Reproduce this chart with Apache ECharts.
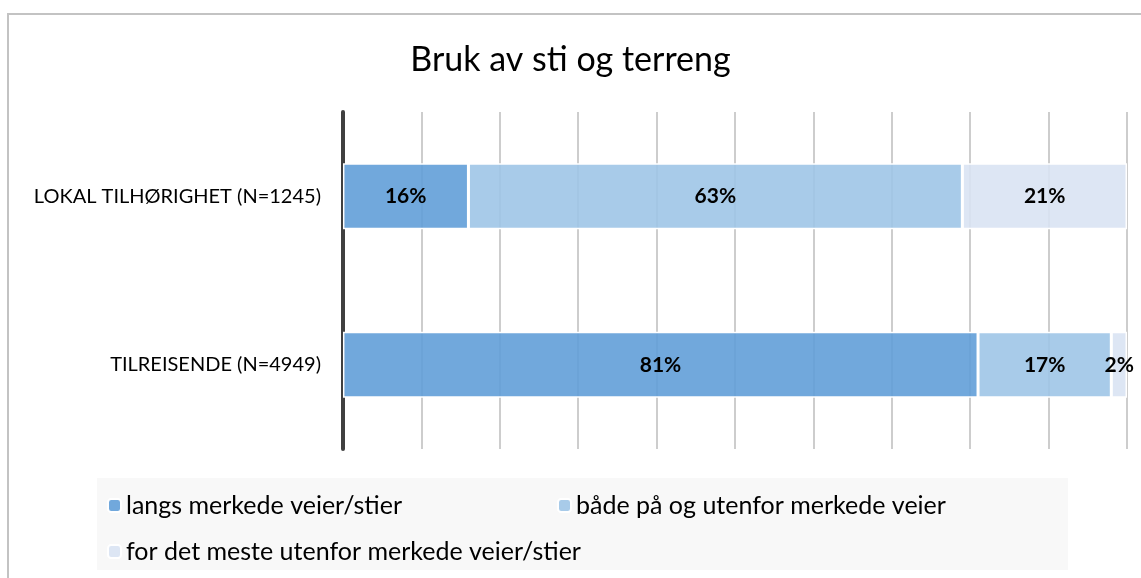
<!DOCTYPE html>
<html>
<head>
<meta charset="utf-8">
<script src="https://cdn.jsdelivr.net/npm/echarts@6/dist/echarts.min.js"></script>
<style>
html,body{margin:0;padding:0;background:#fff;}
#chart{width:1141px;height:578px;}
</style>
</head>
<body>
<div id="chart"></div>
<script>
var categories = ['LOKAL TILHØRIGHET (N=1245)', 'TILREISENDE (N=4949)'];
var seriesNames = ['langs merkede veier/stier', 'både på og utenfor merkede veier', 'for det meste utenfor merkede veier/stier'];
var langs = [16, 81];
var baade = [63, 17];
var utenfor = [21, 2];
var colors = ['rgba(98,159,216,0.9)', 'rgba(159,197,231,0.9)', 'rgba(217,227,243,0.9)'];
var FONT = 'Lato, "Open Sans", sans-serif';

var chart = echarts.init(document.getElementById('chart'), null, {renderer: 'canvas'});

function mkSeries(name, data, color) {
  return {
    name: name, type: 'bar', stack: 'total', data: data, barWidth: 66,
    itemStyle: {color: color, borderColor: '#ffffff', borderWidth: 1.5},
    label: {show: true, position: 'inside', formatter: '{c}%', color: '#000', fontWeight: 'bold', fontSize: 21, fontFamily: FONT},
    emphasis: {disabled: true}
  };
}

var legendBase = {
  orient: 'horizontal', itemWidth: 13, itemHeight: 13, itemGap: 8,
  textStyle: {fontSize: 25, color: '#000', fontFamily: FONT},
  selectedMode: false
};

chart.setOption({
  animation: false,
  title: {
    text: 'Bruk av sti og terreng', left: 'center', top: 38,
    textStyle: {fontSize: 34, fontWeight: 'normal', color: '#000', fontFamily: FONT}
  },
  graphic: [
    {type: 'rect', shape: {x: 8, y: 14, width: 1200, height: 700}, style: {fill: 'none', stroke: '#c3c3c3', lineWidth: 2}, z: -10},
    {type: 'rect', shape: {x: 97, y: 478, width: 971, height: 92}, style: {fill: '#f8f8f8'}, z: -5}
  ],
  legend: [
    Object.assign({data: [seriesNames[0]], left: 102, top: 488}, legendBase),
    Object.assign({data: [seriesNames[1]], left: 552, top: 488}, legendBase),
    Object.assign({data: [seriesNames[2]], left: 102, top: 534}, legendBase)
  ],
  grid: {left: 343, right: 14, top: 112, bottom: 129, containLabel: false},
  xAxis: {
    type: 'value', min: 0, max: 100, interval: 10,
    axisLabel: {show: false}, axisTick: {show: false}, axisLine: {show: false},
    splitLine: {show: true, lineStyle: {color: '#bdbdbd', width: 1.5}}
  },
  yAxis: {
    type: 'category', data: categories, inverse: true,
    axisTick: {show: false},
    axisLine: {show: true, lineStyle: {color: '#404040', width: 4}},
    axisLabel: {fontSize: 20, color: '#000', fontFamily: FONT, margin: 22}
  },
  series: [
    mkSeries(seriesNames[0], langs, colors[0]),
    mkSeries(seriesNames[1], baade, colors[1]),
    mkSeries(seriesNames[2], utenfor, colors[2])
  ]
});
</script>
</body>
</html>
